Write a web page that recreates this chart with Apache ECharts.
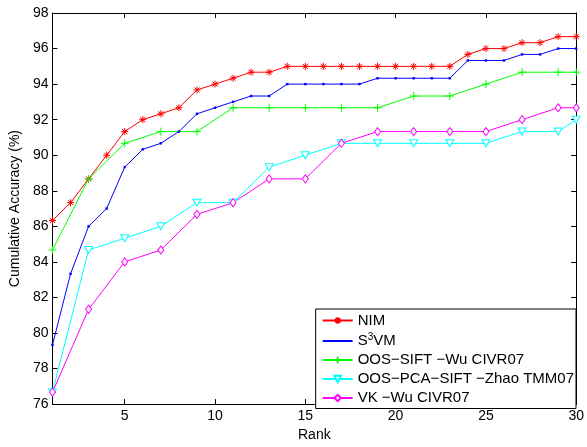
<!DOCTYPE html>
<html>
<head>
<meta charset="utf-8">
<script src="https://cdn.jsdelivr.net/npm/echarts@6/dist/echarts.min.js"></script>
<style>
html,body{margin:0;padding:0;background:#fff;}
#c{width:587px;height:447px;}
</style>
</head>
<body>
<div id="c"></div>
<script>
// ---- data ----
var ranksAll = [1,2,3,4,5,6,7,8,9,10,11,12,13,14,15,16,17,18,19,20,21,22,23,24,25,26,27,28,29,30];
var ranksOdd = [1,3,5,7,9,11,13,15,17,19,21,23,25,27,29,30];
var nim = [86.33,87.33,88.67,90,91.33,92,92.33,92.67,93.67,94,94.33,94.67,94.67,95,95,95,95,95,95,95,95,95,95,95.67,96,96,96.33,96.33,96.67,96.67];
var s3vm = [79.33,83.33,86,87,89.33,90.33,90.67,91.33,92.33,92.67,93,93.33,93.33,94,94,94,94,94,94.33,94.33,94.33,94.33,94.33,95.33,95.33,95.33,95.67,95.67,96,96];
var oosSift = [84.67,88.67,90.67,91.33,91.33,92.67,92.67,92.67,92.67,92.67,93.33,93.33,94,94.67,94.67,94.67];
var oosPcaSift = [76.67,84.67,85.33,86,87.33,87.33,89.33,90,90.67,90.67,90.67,90.67,90.67,91.33,91.33,92];
var vk = [76.67,81.33,84,84.67,86.67,87.33,88.67,88.67,90.67,91.33,91.33,91.33,91.33,92,92.67,92.67];
var seriesNames = ['NIM','S3VM','OOS\u2212SIFT \u2212Wu CIVR07','OOS\u2212PCA\u2212SIFT \u2212Zhao TMM07','VK \u2212Wu CIVR07'];
var xTicks = [5,10,15,20,25,30];
var xLabel = 'Rank';
var yLabel = 'Cumulative Accuracy (%)';

function pairs(xs, ys){ return xs.map(function(x,i){ return [x, ys[i]]; }); }

var FONT = '"Liberation Sans", Arial, Helvetica, sans-serif';
var asterisk = 'path://M0,-5L0,5M-5,0L5,0M-3.6,-3.6L3.6,3.6M-3.6,3.6L3.6,-3.6';
var plus = 'path://M0,-5L0,5M-5,0L5,0';
var dot = 'path://M-5,-5L-5,-5M5,5L5,5M-1.2,-1.2L1.2,-1.2L1.2,1.2L-1.2,1.2Z';

function mkSeries(name, data, color, symbol, size, fill, bw, rot){
  return {
    name: name, type: 'line', data: data,
    symbol: symbol, symbolSize: size, symbolRotate: rot || 0,
    showSymbol: true, showAllSymbol: true,
    lineStyle: {color: color, width: 1},
    itemStyle: {color: fill, borderColor: color, borderWidth: bw},
    emphasis: {disabled: true},
    animation: false
  };
}

var chart = echarts.init(document.getElementById('c'), null, {renderer: 'canvas'});
var axisCommon = {
  axisLine: {show: true, onZero: false, lineStyle: {color: '#000', width: 1}},
  splitLine: {show: false}
};
chart.setOption({
  backgroundColor: '#fff',
  animation: false,
  grid: {left: 50, right: 9, top: 13, bottom: 35, containLabel: false},
  xAxis: [
    Object.assign({
      type: 'value', min: 1, max: 30, position: 'bottom',
      name: xLabel, nameLocation: 'middle', nameGap: 20,
      nameTextStyle: {fontFamily: FONT, fontSize: 14, color: '#000'},
      axisTick: {show: true, inside: true, length: 5, customValues: xTicks, lineStyle: {color: '#000'}},
      axisLabel: {show: true, customValues: xTicks, margin: 5, fontFamily: FONT, fontSize: 14, color: '#000'}
    }, axisCommon),
    Object.assign({
      type: 'value', min: 1, max: 30, position: 'top',
      axisTick: {show: true, inside: true, length: 5, customValues: xTicks, lineStyle: {color: '#000'}},
      axisLabel: {show: false}
    }, axisCommon)
  ],
  yAxis: [
    Object.assign({
      type: 'value', min: 76, max: 98, interval: 2, position: 'left',
      name: yLabel, nameLocation: 'middle', nameGap: 24,
      nameTextStyle: {fontFamily: FONT, fontSize: 14, color: '#000'},
      axisTick: {show: true, inside: true, length: 5, lineStyle: {color: '#000'}},
      axisLabel: {show: true, margin: 4, fontFamily: FONT, fontSize: 14, color: '#000'}
    }, axisCommon),
    Object.assign({
      type: 'value', min: 76, max: 98, interval: 2, position: 'right',
      axisTick: {show: true, inside: true, length: 5, lineStyle: {color: '#000'}},
      axisLabel: {show: false}
    }, axisCommon)
  ],
  legend: {
    show: true, orient: 'vertical', right: 11, top: 309,
    itemWidth: 30, itemHeight: 8, itemGap: 4,
    padding: [4, 2, 3, 6],
    backgroundColor: '#fff', borderColor: '#000', borderWidth: 1,
    selectedMode: false,
    data: seriesNames,
    formatter: function(n){ return n === 'S3VM' ? 'S{sup|3}VM' : n; },
    textStyle: {fontFamily: FONT, fontSize: 15, color: '#000',
      rich: {sup: {fontFamily: FONT, fontSize: 10, verticalAlign: 'top', padding: [0,0,8,0], color: '#000'}}}
  },
  series: [
    mkSeries(seriesNames[0], pairs(ranksAll, nim), '#ff0000', asterisk, 7, '#ff0000', 1),
    mkSeries(seriesNames[1], pairs(ranksAll, s3vm), '#0000ff', dot, 10, '#0000ff', 0),
    mkSeries(seriesNames[2], pairs(ranksOdd, oosSift), '#00ff00', plus, 8, '#00ff00', 1),
    mkSeries(seriesNames[3], pairs(ranksOdd, oosPcaSift), '#00ffff', 'triangle', [8,7], '#ffffff', 1, 180),
    mkSeries(seriesNames[4], pairs(ranksOdd, vk), '#ff00ff', 'diamond', [6,8], '#ffffff', 1)
  ]
});
</script>
</body>
</html>
